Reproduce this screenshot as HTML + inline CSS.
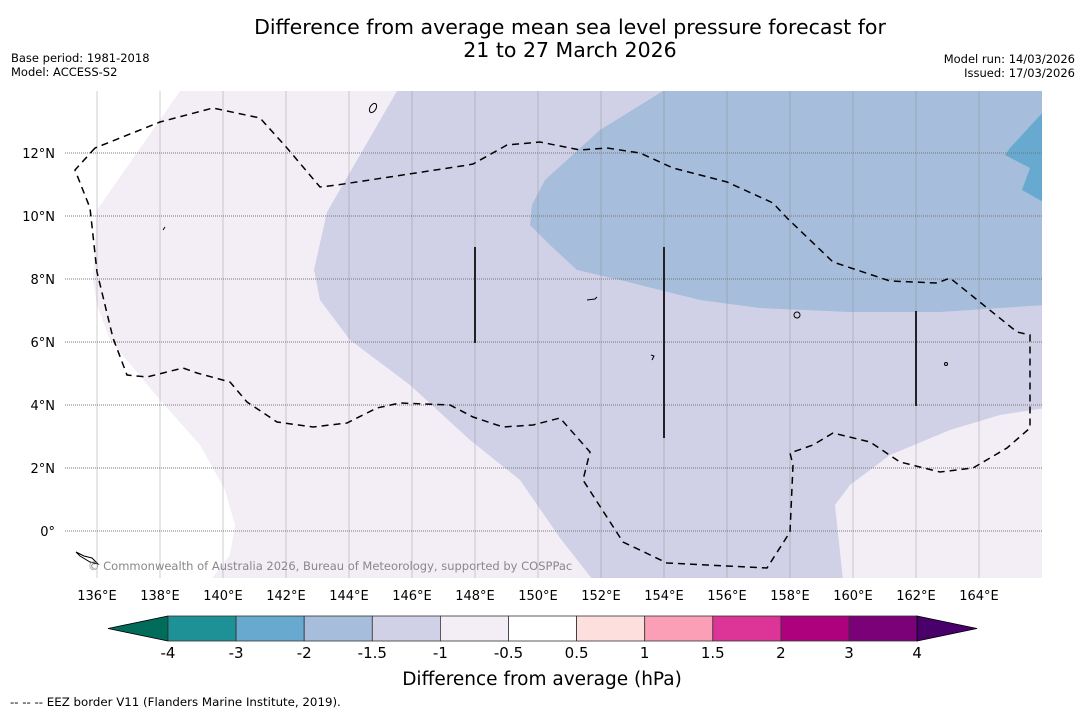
<!DOCTYPE html>
<html><head><meta charset="utf-8">
<style>
body{margin:0;background:#fff;width:1085px;height:713px;overflow:hidden;font-family:"DejaVu Sans","Liberation Sans",sans-serif;}
svg{position:absolute;left:0;top:0}
</style></head>
<body>
<svg id="chart" width="1085" height="713" viewBox="0 0 1085 713" font-family="DejaVu Sans, Liberation Sans, sans-serif">
  <text x="570" y="34" font-size="20.5" text-anchor="middle" fill="#000">Difference from average mean sea level pressure forecast for</text>
  <text x="570" y="57" font-size="20.5" text-anchor="middle" fill="#000">21 to 27 March 2026</text>
  <text x="11" y="62" font-size="11.5">Base period: 1981-2018</text>
  <text x="11" y="76" font-size="11.5">Model: ACCESS-S2</text>
  <text x="1075" y="63" font-size="11.5" text-anchor="end">Model run: 14/03/2026</text>
  <text x="1075" y="77" font-size="11.5" text-anchor="end">Issued: 17/03/2026</text>

  <defs><clipPath id="mapclip"><rect x="65" y="91" width="977" height="487"/></clipPath></defs>
  <g clip-path="url(#mapclip)">
    <rect x="65" y="91" width="977" height="487" fill="#f3eef6"/>
    <polygon fill="#ffffff" points="60,91 180,91 97,210 93,280 97,305 110,340 160,400 200,445 225,490 235,525 230,555 212,578 60,578"/>
    <polygon fill="#d0d1e6" points="397,91 1045,91 1045,408 1000,415 950,430 890,455 850,485 835,505 843,580 593,580 560,538 520,480 470,440 410,385 350,340 320,300 314,270 327,212"/>
    <polygon fill="#a6bddb" points="663,91 1045,91 1045,305 940,312 850,312 760,308 700,300 620,280 577,270 550,245 530,225 532,205 545,180 600,130"/>
    <polygon fill="#67a9cf" points="1045,110 1010,148 1005,155 1030,168 1022,190 1045,203"/>
    <g id="grid"></g>
    <polyline fill="none" stroke="#000" stroke-width="1.5" stroke-dasharray="7,5" points="95,148 75,170 90,208 97,272 113,338 127,375 147,377 183,368 197,373 230,382 247,402 277,422 313,427 347,423 377,408 400,403 450,405 473,417 503,427 533,425 560,418 590,452 583,480 623,542 667,563 767,568 790,532 793,465 790,453 813,445 833,433 870,442 900,462 940,472 973,468 1007,448 1030,428 1030,335 1017,332 950,278 937,283 890,281 833,262 787,218 773,203 727,182 673,168 640,153 607,148 580,150 540,142 507,145 473,164 468,165 337,185 320,187 287,148 260,118 213,108 160,122 95,148"/>
    <line x1="475" y1="247" x2="475" y2="343" stroke="#222" stroke-width="2"/>
    <line x1="664" y1="247" x2="664" y2="438" stroke="#222" stroke-width="2"/>
    <line x1="916" y1="311" x2="916" y2="406" stroke="#222" stroke-width="2"/>
    <g fill="none" stroke="#000" stroke-width="1">
      <ellipse cx="373" cy="108" rx="3" ry="5" transform="rotate(30 373 108)"/>
      <circle cx="797" cy="315" r="3"/>
      <path d="M587,300 l8,-1 l2,-2"/>
      <path d="M163,230 l2,-3"/>
      <path d="M76,552 l8,4 l8,2 l6,6 l-8,-2 l-10,-6z"/>
      <circle cx="946" cy="364" r="1.5"/>
      <path d="M651,355 l3,1 l-2,4"/>
    </g>
    <text x="88" y="570" font-size="11.5" fill="#888">© Commonwealth of Australia 2026, Bureau of Meteorology, supported by COSPPac</text>
  </g>
  <g id="axislabels"></g>
  <g id="colorbar"></g>
  <text x="542" y="685" font-size="18.5" text-anchor="middle">Difference from average (hPa)</text>
  <text x="10" y="706" font-size="11.8">--  --  -- EEZ border V11 (Flanders Marine Institute, 2019).</text>
</svg>
<script>
const lonTicks=[136,138,140,142,144,146,148,150,152,154,156,158,160,162,164];
const latTicks=[12,10,8,6,4,2,0];
const cbBounds=["-4","-3","-2","-1.5","-1","-0.5","0.5","1","1.5","2","3","4"];
const cbColors=["#1d9195","#67a9cf","#a6bddb","#d0d1e6","#f3eef6","#ffffff","#fde0dd","#fa9fb5","#dd3497","#ae017e","#7a0177"];
const cbUnder="#016c59", cbOver="#49006a";
const NS="http://www.w3.org/2000/svg";
const X=lon=>97+(lon-136)*31.5;
const Y=lat=>531-lat*31.5;
function mk(tag,attrs,parent){const e=document.createElementNS(NS,tag);for(const k in attrs)e.setAttribute(k,attrs[k]);parent.appendChild(e);return e;}
const grid=document.getElementById('grid'),ax=document.getElementById('axislabels'),cb=document.getElementById('colorbar');
lonTicks.forEach(l=>{
  const ln=mk('line',{x1:X(l),x2:X(l),y1:91,y2:578,stroke:'#888','stroke-opacity':0.45,'stroke-width':0.9},grid);
  
  
  const t=mk('text',{x:X(l),y:600,'font-size':13,'text-anchor':'middle'},ax);
  t.textContent=l+'°E';
  
  
});
latTicks.forEach(l=>{
  const ln=mk('line',{x1:65,x2:1042,y1:Y(l),y2:Y(l),stroke:'#777','stroke-width':1,'stroke-dasharray':'1,1'},grid);
  
  
  const t=mk('text',{x:55,y:Y(l)+5,'font-size':13,'text-anchor':'end'},ax);
  t.textContent=l===0?'0°':l+'°N';
  
  
});
const cbX0=168,cbW=68.1,cbY=616,cbH=25;
const a1=mk('polygon',{points:`108,${cbY+cbH/2} ${cbX0},${cbY} ${cbX0},${cbY+cbH}`,fill:cbUnder,stroke:'#000','stroke-width':0.8},cb);


cbColors.forEach((c,i)=>{
  const r=mk('rect',{x:cbX0+i*cbW,y:cbY,width:cbW,height:cbH,fill:c,stroke:'#333','stroke-width':0.8},cb);
  
  
});
const xe=cbX0+cbColors.length*cbW;
const a2=mk('polygon',{points:`${xe},${cbY} ${xe+60},${cbY+cbH/2} ${xe},${cbY+cbH}`,fill:cbOver,stroke:'#000','stroke-width':0.8},cb);


cbBounds.forEach((b,i)=>{
  const t=mk('text',{x:cbX0+i*cbW,y:658,'font-size':15,'text-anchor':'middle'},cb);
  t.textContent=b;
  
  
});
</script>
</body></html>
